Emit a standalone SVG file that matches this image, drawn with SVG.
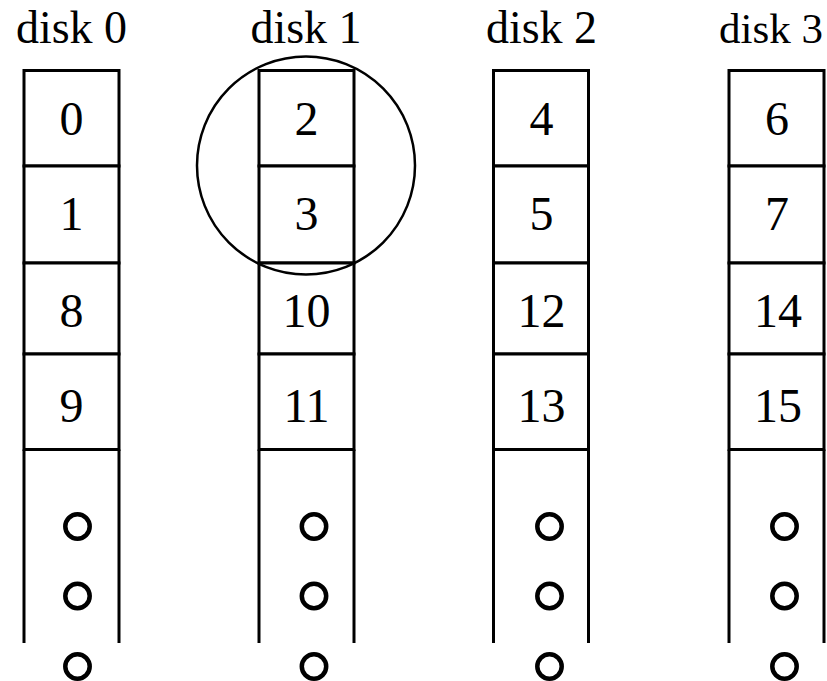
<svg xmlns="http://www.w3.org/2000/svg" width="827" height="681" viewBox="0 0 827 681">
<style>
.cell{fill:#fff;stroke:#000;stroke-width:3}
.side{stroke:#000;stroke-width:3;fill:none}
.lbl{font-family:"Liberation Serif","Times New Roman",serif;font-size:46px;fill:#000;text-anchor:middle}
.num{font-family:"Liberation Serif","Times New Roman",serif;font-size:48px;fill:#000;text-anchor:middle}
.dot{fill:#fff;stroke:#000;stroke-width:4.5}
.ring{fill:none;stroke:#000;stroke-width:2.5}
</style>
<rect width="827" height="681" fill="#fff"/>
<g id="disk0">
<text class="lbl" x="71.5" y="43">disk 0</text>
<line class="side" x1="24" y1="449.5" x2="24" y2="643"/>
<line class="side" x1="119" y1="449.5" x2="119" y2="643"/>
<rect class="cell" x="24" y="70.5" width="95" height="95.5"/>
<rect class="cell" x="24" y="166" width="95" height="97"/>
<rect class="cell" x="24" y="263" width="95" height="91"/>
<rect class="cell" x="24" y="354" width="95" height="95.5"/>
<text class="num" x="71.5" y="135">0</text>
<text class="num" x="71.5" y="230">1</text>
<text class="num" x="71.5" y="327">8</text>
<text class="num" x="71.5" y="422">9</text>
<circle class="dot" cx="77.5" cy="526.5" r="12.2"/>
<circle class="dot" cx="77.5" cy="596" r="12.2"/>
<circle class="dot" cx="77.5" cy="666.5" r="12.2"/>
</g>
<g id="disk1">
<text class="lbl" x="306" y="43">disk 1</text>
<line class="side" x1="259" y1="449.5" x2="259" y2="643"/>
<line class="side" x1="354" y1="449.5" x2="354" y2="643"/>
<rect class="cell" x="259" y="70.5" width="95" height="95.5"/>
<rect class="cell" x="259" y="166" width="95" height="97"/>
<rect class="cell" x="259" y="263" width="95" height="91"/>
<rect class="cell" x="259" y="354" width="95" height="95.5"/>
<text class="num" x="306.5" y="135">2</text>
<text class="num" x="306.5" y="230">3</text>
<text class="num" x="306.5" y="327">10</text>
<text class="num" x="306.5" y="422">11</text>
<circle class="dot" cx="314" cy="526.5" r="12.2"/>
<circle class="dot" cx="314" cy="596" r="12.2"/>
<circle class="dot" cx="314" cy="666.5" r="12.2"/>
</g>
<g id="disk2">
<text class="lbl" x="541.5" y="43">disk 2</text>
<line class="side" x1="493.5" y1="449.5" x2="493.5" y2="643"/>
<line class="side" x1="588.5" y1="449.5" x2="588.5" y2="643"/>
<rect class="cell" x="493.5" y="70.5" width="95" height="95.5"/>
<rect class="cell" x="493.5" y="166" width="95" height="97"/>
<rect class="cell" x="493.5" y="263" width="95" height="91"/>
<rect class="cell" x="493.5" y="354" width="95" height="95.5"/>
<text class="num" x="541.5" y="135">4</text>
<text class="num" x="541.5" y="230">5</text>
<text class="num" x="541.5" y="327">12</text>
<text class="num" x="541.5" y="422">13</text>
<circle class="dot" cx="549.5" cy="526.5" r="12.2"/>
<circle class="dot" cx="549.5" cy="596" r="12.2"/>
<circle class="dot" cx="549.5" cy="666.5" r="12.2"/>
</g>
<g id="disk3">
<text class="lbl" x="719" y="43" style="text-anchor:start;font-size:43px">disk 3</text>
<line class="side" x1="729" y1="449.5" x2="729" y2="643"/>
<line class="side" x1="824" y1="449.5" x2="824" y2="643"/>
<rect class="cell" x="729" y="70.5" width="95" height="95.5"/>
<rect class="cell" x="729" y="166" width="95" height="97"/>
<rect class="cell" x="729" y="263" width="95" height="91"/>
<rect class="cell" x="729" y="354" width="95" height="95.5"/>
<text class="num" x="777" y="135">6</text>
<text class="num" x="777" y="230">7</text>
<text class="num" x="778" y="327">14</text>
<text class="num" x="778" y="422">15</text>
<circle class="dot" cx="784.5" cy="526.5" r="12.2"/>
<circle class="dot" cx="784.5" cy="596" r="12.2"/>
<circle class="dot" cx="784.5" cy="666.5" r="12.2"/>
</g>
<g id="connectors">
<circle id="highlight" class="ring" cx="306" cy="165.5" r="109"/>
</g>
</svg>
